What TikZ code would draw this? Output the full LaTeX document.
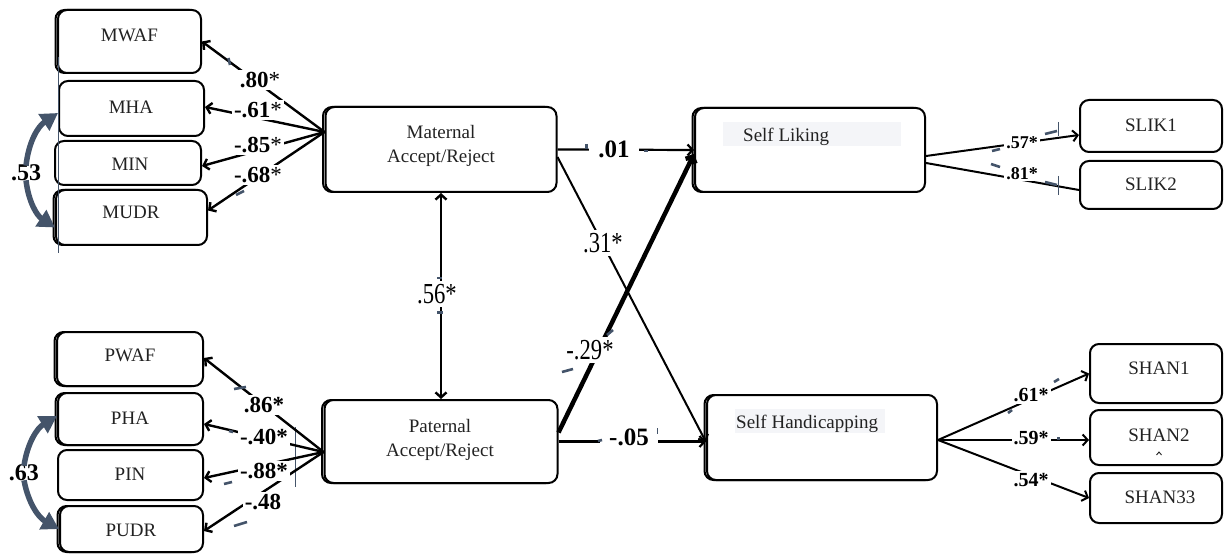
\documentclass[tikz,border=0pt]{standalone}
\usepackage{fontspec}
\setmainfont{Liberation Serif}
\newfontfamily\condfont[FakeStretch=0.78]{Liberation Serif}
\usetikzlibrary{arrows.meta,calc,shadows}
\definecolor{slate}{HTML}{44546A}
\definecolor{hl}{HTML}{F4F5F8}
\definecolor{txt}{HTML}{222222}
\tikzset{
  bx/.style={draw, line width=2pt, rounded corners=9pt, fill=white, inner sep=0pt},
  sh/.style={copy shadow={shadow xshift=-2.5pt, shadow yshift=0pt}},
  bt/.style={font=\fontsize{19}{21}\selectfont, text=txt, inner sep=0pt, text height=12.6pt, text depth=0pt},
  bt2/.style={font=\fontsize{19}{24}\selectfont, text=txt, inner sep=0pt, align=center},
  lb/.style={font=\bfseries\fontsize{23}{25}\selectfont, fill=white, inner sep=2pt, text height=15.5pt, text depth=0pt},
  lbbig/.style={font=\bfseries\fontsize{25}{27}\selectfont, fill=white, inner xsep=9pt, inner ysep=2pt, text height=17pt, text depth=0pt},
  lbc/.style={font=\condfont\fontsize{29}{31}\selectfont, fill=white, inner sep=3pt, text height=19.6pt, text depth=0pt},
  lbs/.style={font=\bfseries\fontsize{18}{20}\selectfont, fill=white, inner sep=2pt, text height=12.2pt, text depth=0pt},
  lbr/.style={font=\bfseries\fontsize{20}{22}\selectfont, fill=white, inner sep=2pt, text height=13.5pt, text depth=0pt},
  barb/.tip={Straight Barb[length=5pt,width=11pt]},
  ind/.style={line width=2.4pt, -barb},
  pth/.style={line width=2.2pt, -barb},
  cov/.style={slate, line width=5.5pt, -{Triangle[length=17pt,width=19pt]}},
  tk/.style={slate, line width=2.6pt},
  tkt/.style={slate, line width=0.9pt},
}
\begin{document}
\begin{tikzpicture}[x=1pt,y=-1pt]
\useasboundingbox (0,0) rectangle (1224,556);

% maternal indicators
\node[bx, sh, minimum width=143pt, minimum height=63pt] (MWAF) at (129.5,41.5) {};
\node[bx, minimum width=145pt, minimum height=55pt] (MHA) at (131.5,108.5) {};
\node[bx, minimum width=146pt, minimum height=44pt] (MIN) at (128,163) {};
\node[bx, sh, minimum width=151pt, minimum height=55pt] (MUDR) at (131.5,217.5) {};
% paternal indicators
\node[bx, sh, minimum width=146pt, minimum height=54pt] (PWAF) at (130,359) {};
\node[bx, sh, minimum width=145pt, minimum height=52pt] (PHA) at (130.5,419) {};
\node[bx, minimum width=145pt, minimum height=50pt] (PIN) at (130.5,475) {};
\node[bx, sh, minimum width=143pt, minimum height=46pt] (PUDR) at (131.5,529) {};
% latent
\node[bx, sh, minimum width=231pt, minimum height=85pt] (MAT) at (441,149.5) {};
\node[bx, sh, minimum width=233pt, minimum height=83pt] (PAT) at (441,441.5) {};
\node[bx, sh, minimum width=230pt, minimum height=84pt] (SL) at (810,150) {};
\node[bx, sh, minimum width=230pt, minimum height=85pt] (SH) at (822,437.5) {};
% outcome indicators
\node[bx, minimum width=142pt, minimum height=52pt] (SLIK1) at (1151,126) {};
\node[bx, minimum width=142pt, minimum height=48pt] (SLIK2) at (1151,185) {};
\node[bx, minimum width=132pt, minimum height=59pt] (SHAN1) at (1156,373.5) {};
\node[bx, minimum width=132pt, minimum height=55pt] (SHAN2) at (1156,437.5) {};
\node[bx, minimum width=132pt, minimum height=50pt] (SHAN33) at (1156,498) {};

% highlights behind outcome names
\fill[hl] (723,122) rectangle (901,146);
\fill[hl] (735,409) rectangle (885,433);

% texts
\node[bt] (tMWAF) at (129.5,35) {MWAF};
\node[bt] (tMHA) at (131,107) {MHA};
\node[bt] (tMIN) at (130,164) {MIN};
\node[bt] (tMUDR) at (131,212) {MUDR};
\node[bt] (tPWAF) at (130,355) {PWAF};
\node[bt] (tPHA) at (130,418) {PHA};
\node[bt] (tPIN) at (130,474) {PIN};
\node[bt] (tPUDR) at (131,530) {PUDR};
\node[bt2] (tMAT) at (441,146) {Maternal\\Accept/Reject};
\node[bt2] (tPAT) at (440,439.5) {Paternal\\Accept/Reject};
\node[bt, anchor=west] (tSL) at (743,135) {Self Liking};
\node[bt, anchor=west] (tSH) at (736,422) {Self Handicapping};
\node[bt] (tSLIK1) at (1151,125) {SLIK1};
\node[bt] (tSLIK2) at (1151,184) {SLIK2};
\node[bt] (tSHAN1) at (1159,368) {SHAN1};
\node[bt] (tSHAN2) at (1159,435) {SHAN2};
\node[bt] (tSHAN33) at (1160,497) {SHAN33};
\draw[txt, line width=0.9pt] (1156.5,455) -- (1159,452) -- (1161.5,455);

% thin artifact lines
\draw[tkt] (58,57) -- (58,253);
\draw[tkt] (295,427) -- (295,487);

% vertices
\coordinate (mv) at ([yshift=17.5pt]MAT.west);
\coordinate (pv) at ([yshift=-10.5pt]PAT.west);

% maternal loadings
\draw[ind] (mv) -- (MWAF.east);
\draw[ind] (mv) -- ([yshift=1.5pt]MHA.east);
\draw[ind] (mv) -- ([yshift=-3pt]MIN.east);
\draw[ind] (mv) -- ([yshift=7pt]MUDR.east);
% paternal loadings
\draw[ind] (pv) -- ([yshift=1pt]PWAF.east);
\draw[ind] (pv) -- ([yshift=-5pt]PHA.east);
\draw[ind] (pv) -- ([yshift=-3pt]PIN.east);
\draw[ind] (pv) -- ([yshift=-2pt]PUDR.east);

\node[lb] (l80) at (260,80) {.80\textmd{*}};
\node[lb] (l61) at (258,110) {-.61\textmd{*}};
\node[lb] (l85) at (258,145) {-.85\textmd{*}};
\node[lb] (l68) at (258,175) {-.68\textmd{*}};
\node[lb] (l86) at (264,405) {.86*};
\node[lb] (l40) at (264,437) {-.40*};
\node[lb] (l88) at (264,471) {-.88*};
\node[lb] (l48) at (263,502) {-.48};

% covariances between indicators
\node[font=\bfseries\fontsize{24}{26}\selectfont, inner sep=1pt] (l53) at (26,173) {.53};
\draw[cov] ([yshift=-2pt]l53.north) to[bend left=25] ([yshift=-4.5pt]MHA.west);
\draw[cov] ([yshift=2pt]l53.south) to[bend right=25] ([yshift=-10pt]MUDR.west);
\node[font=\bfseries\fontsize{24}{26}\selectfont, inner sep=1pt] (l63) at (24,473) {.63};
\draw[cov] ([yshift=-2pt]l63.north) to[bend left=25] ([yshift=3pt]PHA.west);
\draw[cov] ([yshift=2pt]l63.south) to[bend right=25] (PUDR.west);

% structural paths
\draw[line width=2.4pt, barb-barb] (MAT.south) -- (PAT.north);
\draw[pth] (MAT.east) -- (SL.west);
\draw[pth, line width=2pt] ([yshift=-7.5pt]MAT.east) -- ([yshift=-4.5pt]SH.west);
\draw[pth, line width=4.5pt] ([yshift=9pt]PAT.east) -- ([yshift=-4pt]SL.west);
\draw[pth] (PAT.east) -- (PAT.east -| SH.west);

\node[lbc] (l56) at (437,294) {.56*};
\node[lbbig] (l01) at (614,149) {.01};
\node[lbc] (l31) at (603,243) {.31*};
\node[lbc] (l29) at (590,350) {-.29*};
\node[lbbig] (l05) at (629,437) {-.05};

% outcome loadings
\draw[line width=2pt, -barb] ([yshift=-6pt]SL.east) -- ([yshift=-9pt]SLIK1.west);
\draw[line width=2pt] ([yshift=-13pt]SL.east) -- ([yshift=-5pt]SLIK2.west);
\draw[line width=2pt, -barb] ([yshift=-2.5pt]SH.east) -- (SHAN1.west);
\draw[line width=2pt, -barb] ([yshift=-2.5pt]SH.east) -- ([yshift=-2.5pt]SHAN2.west);
\draw[line width=2pt, -barb] ([yshift=-2.5pt]SH.east) -- (SHAN33.west);

\node[lbs] (l57) at (1022,142) {.57*};
\node[lbs] (l81) at (1022,173) {.81*};
\node[lbr] (l61b) at (1031,395) {.61*};
\node[lbr] (l59) at (1031,438) {.59*};
\node[lbr] (l54) at (1031,480) {.54*};

% small slate marks left at the ends of the cut lines
\draw[tk] (228.5,58) -- (230,65);
\draw[tk] (236,195) -- (244,191);
\draw[tk] (234,389) -- (246,387);
\draw[tk] (229,431) -- (233,432);
\draw[tk] (224,484) -- (232,482);
\draw[tk] (234,526) -- (247,522);
\draw[tk] (586.5,144) -- (586.5,149);
\draw[tk] (644,151) -- (648,151);
\draw[tk] (437,278) -- (442,278);
\draw[tk] (437,312.5) -- (443,312.5);
\draw[tk] (607,335) -- (613,330);
\draw[tk] (562,372) -- (573,369);
\draw[tk] (598,441) -- (602,440);
\draw[tkt] (657.5,428) -- (657.5,434);
\draw[tk] (992,151) -- (1000,149);
\draw[tk] (1045,134) -- (1057,131);
\draw[tkt] (1058,122) -- (1058,136);
\draw[tk] (991,164) -- (1000,167);
\draw[tk] (1045,182) -- (1057,185);
\draw[tkt] (1058,176) -- (1058,195);
\draw[tk] (1054,382) -- (1059,379);
\draw[tk] (1008,413) -- (1012,410);
\draw[tk] (1057,438.5) -- (1060,438.5);
\end{tikzpicture}
\end{document}
